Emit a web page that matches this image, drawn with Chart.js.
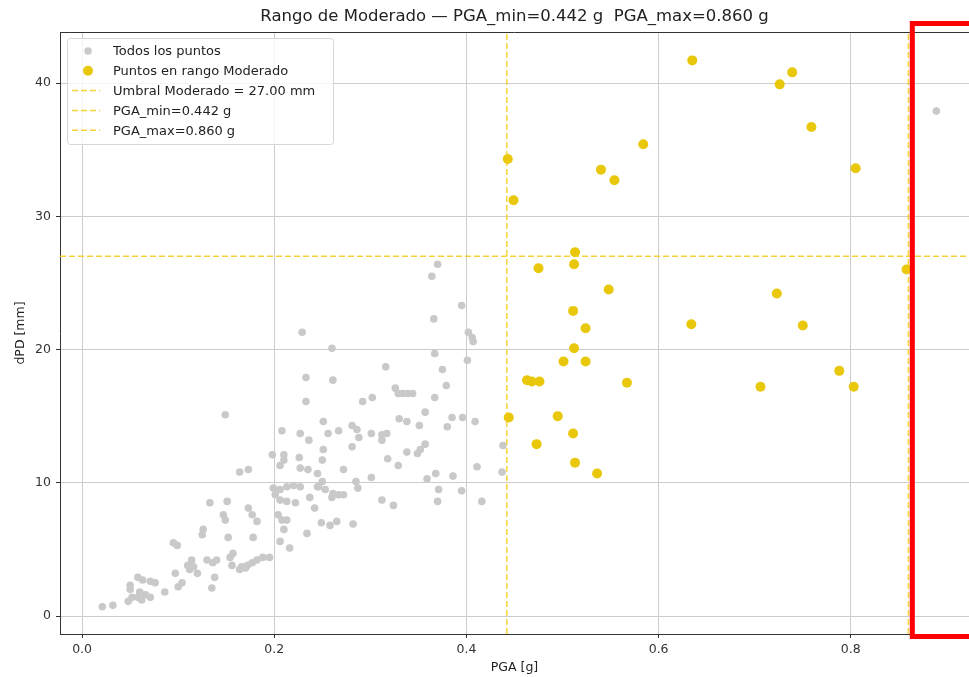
<!DOCTYPE html>
<html>
<head>
<meta charset="utf-8">
<script src="https://cdn.jsdelivr.net/npm/chart.js@4"></script>
<style>
  html, body { margin: 0; padding: 0; background: #fff; overflow: hidden; }
  #wrap { width: 969px; height: 677px; overflow: hidden; }
</style>
</head>
<body>
<div id="wrap"><canvas id="pgaChart" width="974" height="677"></canvas></div>
<script>
// Datos: PGA [g] y dPD [mm] de cada punto
const pgaValues = [
  0.229, 0.233, 0.233, 0.149, 0.208, 0.227, 0.236, 0.198, 0.210, 0.226,
  0.210, 0.206, 0.227, 0.235, 0.164, 0.173, 0.245, 0.199, 0.206, 0.213,
  0.220, 0.227, 0.201, 0.206, 0.213, 0.222, 0.237, 0.245, 0.133, 0.151,
  0.173, 0.177, 0.147, 0.149, 0.182, 0.204, 0.208, 0.213, 0.242, 0.234,
  0.210, 0.206, 0.216, 0.152, 0.178, 0.126, 0.125, 0.095, 0.099, 0.130,
  0.136, 0.140, 0.114, 0.110, 0.116, 0.120, 0.112, 0.157, 0.154, 0.156,
  0.166, 0.172, 0.177, 0.182, 0.188, 0.195, 0.164, 0.170, 0.138, 0.135,
  0.097, 0.104, 0.100, 0.086, 0.058, 0.063, 0.071, 0.076, 0.050, 0.050,
  0.052, 0.048, 0.060, 0.066, 0.071, 0.058, 0.062, 0.032, 0.021,
  0.370, 0.364, 0.395, 0.366, 0.402, 0.406, 0.407, 0.260, 0.367, 0.401,
  0.316, 0.375, 0.261, 0.379, 0.326, 0.329, 0.334, 0.339, 0.344, 0.292,
  0.302, 0.367, 0.357, 0.385, 0.396, 0.409, 0.380, 0.330, 0.338, 0.351,
  0.251, 0.281, 0.286, 0.288, 0.256, 0.267, 0.301, 0.312, 0.317, 0.312,
  0.281, 0.251, 0.357, 0.352, 0.349, 0.338, 0.250, 0.318, 0.329, 0.272,
  0.301, 0.285, 0.287, 0.359, 0.368, 0.386, 0.411, 0.371, 0.395, 0.370,
  0.416, 0.312, 0.324, 0.250, 0.246, 0.253, 0.261, 0.267, 0.272, 0.260,
  0.249, 0.258, 0.265, 0.282, 0.438, 0.437, 0.889,
  0.635, 0.726, 0.739, 0.759, 0.805, 0.584, 0.540, 0.554, 0.443, 0.449,
  0.513, 0.512, 0.475, 0.858, 0.548, 0.511, 0.524, 0.512, 0.501, 0.524,
  0.463, 0.468, 0.476, 0.567, 0.444, 0.495, 0.511, 0.473, 0.513, 0.536,
  0.634, 0.723, 0.750, 0.706, 0.788, 0.803
];
const dpdValues = [
  21.3, 17.9, 16.1, 15.1, 13.9, 13.7, 13.2, 12.1, 12.1, 11.9,
  11.7, 11.3, 11.1, 11.0, 10.8, 11.0, 10.7, 9.6, 9.5, 9.7,
  9.8, 9.7, 9.1, 8.7, 8.6, 8.5, 8.9, 9.7, 8.5, 8.6,
  8.1, 7.6, 7.6, 7.2, 7.1, 7.6, 7.2, 7.2, 8.1, 6.2,
  6.5, 5.6, 5.1, 5.9, 5.9, 6.5, 6.1, 5.5, 5.3, 4.2,
  4.0, 4.2, 4.2, 3.8, 3.7, 3.2, 3.5, 4.7, 4.4, 3.8,
  3.7, 3.8, 4.0, 4.2, 4.4, 4.4, 3.5, 3.6, 2.9, 2.1,
  3.2, 2.5, 2.2, 1.8, 2.9, 2.7, 2.6, 2.5, 2.3, 2.0,
  1.4, 1.1, 1.8, 1.6, 1.4, 1.4, 1.2, 0.8, 0.7,
  26.4, 25.5, 23.3, 22.3, 21.3, 20.9, 20.6, 20.1, 19.7, 19.2,
  18.7, 18.5, 17.7, 17.3, 17.1, 16.7, 16.7, 16.7, 16.7, 16.1,
  16.4, 16.4, 15.3, 14.9, 14.9, 14.6, 14.2, 14.8, 14.6, 14.3,
  14.6, 14.3, 14.0, 13.4, 13.7, 13.9, 13.7, 13.6, 13.7, 13.2,
  12.7, 12.5, 12.9, 12.5, 12.2, 12.3, 11.7, 11.8, 11.3, 11.0,
  10.4, 10.1, 9.6, 10.3, 10.7, 10.5, 11.2, 9.5, 9.4, 8.6,
  8.6, 8.7, 8.3, 10.1, 9.7, 9.5, 9.2, 9.1, 9.1, 8.9,
  7.0, 6.8, 7.1, 6.9, 12.8, 10.8, 37.9,
  41.7, 39.9, 40.8, 36.7, 33.6, 35.4, 33.5, 32.7, 34.3, 31.2,
  27.3, 26.4, 26.1, 26.0, 24.5, 22.9, 21.6, 20.1, 19.1, 19.1,
  17.7, 17.6, 17.6, 17.5, 14.9, 15.0, 13.7, 12.9, 11.5, 10.7,
  21.9, 24.2, 21.8, 17.2, 18.4, 17.2
];

const umbralModerado = 27.00;
const pgaMin = 0.442;
const pgaMax = 0.860;

const xLimits = [-0.023, 0.923];
const yLimits = [-1.35, 43.83];
const xTicks = [0.0, 0.2, 0.4, 0.6, 0.8];
const yTicks = [0, 10, 20, 30, 40];

const allPoints = pgaValues.map((x, i) => ({ x: x, y: dpdValues[i] }));
const moderadoPoints = allPoints.filter(p => p.x >= pgaMin && p.x <= pgaMax);

const FONT = "'DejaVu Sans', sans-serif";
const GOLD = '#e9c80c';
const GOLD_LINE = 'rgba(245, 205, 20, 0.85)';

// legend drawn inside the plot, upper left, like matplotlib
const boxLegend = {
  id: 'boxLegend',
  afterDraw(chart) {
    const ctx = chart.ctx;
    const area = chart.chartArea;
    const x0 = area.left + 7, y0 = area.top + 6;
    const w = 266, h = 106, r = 3;
    ctx.save();
    ctx.beginPath();
    ctx.roundRect(x0 + 0.5, y0 + 0.5, w, h, r);
    ctx.fillStyle = 'rgba(255,255,255,0.8)';
    ctx.fill();
    ctx.strokeStyle = '#d6d6d6';
    ctx.lineWidth = 1;
    ctx.stroke();
    ctx.font = '13px ' + FONT;
    ctx.textBaseline = 'middle';
    chart.data.datasets.forEach((ds, i) => {
      const y = y0 + 13 + i * 19.8;
      if (ds.showLine) {
        ctx.strokeStyle = ds.borderColor;
        ctx.lineWidth = ds.borderWidth;
        ctx.setLineDash(ds.borderDash);
        ctx.beginPath();
        ctx.moveTo(x0 + 5, y);
        ctx.lineTo(x0 + 33, y);
        ctx.stroke();
        ctx.setLineDash([]);
      } else {
        ctx.fillStyle = ds.backgroundColor;
        ctx.beginPath();
        ctx.arc(x0 + 21, y, ds.pointRadius, 0, Math.PI * 2);
        ctx.fill();
      }
      ctx.fillStyle = '#222';
      ctx.fillText(ds.label, x0 + 46, y + 1);
    });
    ctx.restore();
  }
};

// top spine + the red highlight box of the reference
const frame = {
  id: 'frame',
  afterDraw(chart) {
    const ctx = chart.ctx;
    const area = chart.chartArea;
    ctx.save();
    ctx.strokeStyle = '#333';
    ctx.lineWidth = 1;
    ctx.beginPath();
    ctx.moveTo(area.left, area.top + 0.5);
    ctx.lineTo(area.right, area.top + 0.5);
    ctx.stroke();

    const left = chart.scales.x.getPixelForValue(0.864);
    ctx.strokeStyle = '#ff0000';
    ctx.lineWidth = 5;
    ctx.strokeRect(left, area.top - 8.5, 100, area.bottom - area.top + 11);
    ctx.restore();
  }
};

new Chart(document.getElementById('pgaChart'), {
  type: 'scatter',
  data: {
    datasets: [
      {
        label: 'Todos los puntos',
        data: allPoints,
        backgroundColor: '#c9c9c9',
        borderWidth: 0,
        pointRadius: 3.8,
        order: 5
      },
      {
        label: 'Puntos en rango Moderado',
        data: moderadoPoints,
        backgroundColor: GOLD,
        borderWidth: 0,
        pointRadius: 5,
        order: 4
      },
      {
        label: 'Umbral Moderado = ' + umbralModerado.toFixed(2) + ' mm',
        data: [{ x: xLimits[0], y: umbralModerado }, { x: xLimits[1], y: umbralModerado }],
        showLine: true,
        borderColor: GOLD_LINE,
        borderWidth: 1.5,
        borderDash: [6, 3],
        pointRadius: 0,
        order: 1
      },
      {
        label: 'PGA_min=' + pgaMin.toFixed(3) + ' g',
        data: [{ x: pgaMin, y: yLimits[0] }, { x: pgaMin, y: yLimits[1] }],
        showLine: true,
        borderColor: GOLD_LINE,
        borderWidth: 1.5,
        borderDash: [6, 3],
        pointRadius: 0,
        order: 2
      },
      {
        label: 'PGA_max=' + pgaMax.toFixed(3) + ' g',
        data: [{ x: pgaMax, y: yLimits[0] }, { x: pgaMax, y: yLimits[1] }],
        showLine: true,
        borderColor: GOLD_LINE,
        borderWidth: 1.5,
        borderDash: [6, 3],
        pointRadius: 0,
        order: 3
      }
    ]
  },
  options: {
    responsive: false,
    animation: false,
    layout: { padding: 0 },
    plugins: {
      legend: { display: false },
      tooltip: { enabled: false },
      title: {
        display: true,
        fullSize: false,
        text: 'Rango de Moderado — PGA_min=' + pgaMin.toFixed(3) + ' g  PGA_max=' + pgaMax.toFixed(3) + ' g',
        color: '#222',
        font: { family: FONT, size: 16.5, weight: 'normal' },
        padding: { top: 6.5, bottom: 5.7 }
      }
    },
    scales: {
      x: {
        type: 'linear',
        min: xLimits[0],
        max: xLimits[1],
        afterBuildTicks: scale => { scale.ticks = xTicks.map(v => ({ value: v })); },
        afterFit: scale => { scale.height = 43; },
        ticks: {
          color: '#333',
          font: { family: FONT, size: 12.5 },
          padding: 4,
          maxRotation: 0,
          callback: v => v.toFixed(1)
        },
        grid: { color: '#cccccc', lineWidth: 1, tickColor: '#333', tickLength: 4 },
        border: { color: '#333', width: 1 },
        title: {
          display: true,
          text: 'PGA [g]',
          color: '#222',
          font: { family: FONT, size: 12.5 },
          padding: { top: 0, bottom: 2 }
        }
      },
      y: {
        type: 'linear',
        min: yLimits[0],
        max: yLimits[1],
        afterBuildTicks: scale => { scale.ticks = yTicks.map(v => ({ value: v })); },
        afterFit: scale => { scale.width = 60; },
        ticks: {
          color: '#333',
          font: { family: FONT, size: 12.5 },
          padding: 5,
          callback: v => String(v)
        },
        grid: { color: '#cccccc', lineWidth: 1, tickColor: '#333', tickLength: 4 },
        border: { color: '#333', width: 1 },
        title: {
          display: true,
          text: 'dPD [mm]',
          color: '#222',
          font: { family: FONT, size: 12.5 },
          padding: { top: 13, bottom: 0 }
        }
      }
    }
  },
  plugins: [boxLegend, frame]
});
</script>
</body>
</html>
